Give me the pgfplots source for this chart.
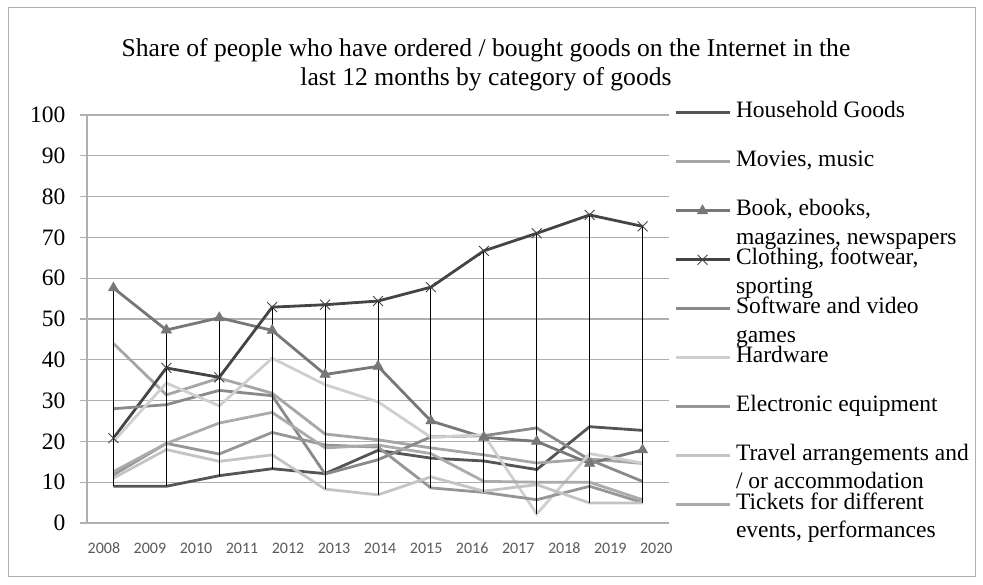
\documentclass[border=0pt]{standalone}
\usepackage{fontspec}
\setmainfont{Liberation Serif}
\newfontfamily\carlito{Carlito}
\usepackage{pgfplots}
\pgfplotsset{compat=1.18}
\definecolor{gridgray}{HTML}{AFAFAF}
\definecolor{labelgray}{HTML}{595959}
\definecolor{hhc}{HTML}{555555}
\definecolor{movc}{HTML}{A6A6A6}
\definecolor{bookc}{HTML}{777777}
\definecolor{clothc}{HTML}{444444}
\definecolor{softc}{HTML}{8A8A8A}
\definecolor{hardc}{HTML}{CFCFCF}
\definecolor{elecc}{HTML}{969696}
\definecolor{travc}{HTML}{C4C4C4}
\definecolor{tickc}{HTML}{ABABAB}
\newcommand{\two}[2]{\smash{\parbox[t]{300bp}{\raggedright #1\\#2}}}
\begin{document}
\begin{tikzpicture}[x=1bp,y=1bp]
\path[use as bounding box] (0,0) rectangle (983,585);
\draw[color=gridgray, line width=1bp] (8,8) rectangle (975,577);
\node[anchor=base, font=\fontsize{25.6bp}{30bp}\selectfont] at (486,528) {Share of people who have ordered / bought goods on the Internet in the};
\node[anchor=base, font=\fontsize{25.6bp}{30bp}\selectfont] at (486,499) {last 12 months by category of goods};
\begin{axis}[
  at={(87bp,62bp)}, anchor=south west,
  scale only axis, width=582bp, height=408bp,
  xmin=-0.5, xmax=10.5, ymin=0, ymax=100,
  axis x line*=bottom, axis y line*=left,
  axis line style={draw=gridgray, line width=1.2bp, -},
  ytick={0,10,...,100},
  ymajorgrids, grid style={gridgray, line width=1.2bp},
  tick align=outside, major tick length=7bp,
  ytick style={gridgray, line width=1.2bp},
  xtick style={draw=none},
  xtick={-0.18,0.69,1.56,2.43,3.30,4.17,5.04,5.91,6.78,7.65,8.52,9.39,10.26},
  xticklabels={2008,2009,2010,2011,2012,2013,2014,2015,2016,2017,2018,2019,2020},
  xticklabel style={font=\carlito\fontsize{16bp}{18bp}\selectfont, text=labelgray, anchor=north, text height=11bp, text depth=0pt, yshift=-9bp},
  yticklabel style={font=\fontsize{23.5bp}{28bp}\selectfont, anchor=east, xshift=-11bp},
  /pgf/number format/assume math mode=true,
  clip=false,
  legend cell align=left,
  legend style={at={(1,1)}, anchor=north west, xshift=5bp, yshift=13bp, draw=none, fill=none,
    inner sep=0pt, outer sep=0pt, row sep=28.9bp,
    font=\fontsize{23.5bp}{28.7bp}\selectfont,
    nodes={inner sep=0pt, text height=16bp, text depth=4bp},
    /tikz/every odd column/.append style={column sep=5bp}},
  legend image code/.code={%
    \draw[#1, line width=3bp, mark=none] (0bp,-1bp) -- (54bp,-1bp);
    \draw[#1, only marks] plot coordinates {(27bp,-1bp)};},
]
\addplot[hhc, line width=2.8bp, mark=none] coordinates {(0,9.0) (1,9.0) (2,11.6) (3,13.3) (4,12.1) (5,17.8) (6,15.9) (7,15.2) (8,13.1) (9,23.6) (10,22.7)};
\addlegendentry{Household Goods}
\addplot[movc, line width=2.8bp, mark=none] coordinates {(0,44.0) (1,31.4) (2,35.5) (3,31.8) (4,21.8) (5,20.4) (6,18.4) (7,16.7) (8,14.7) (9,15.7) (10,14.6)};
\addlegendentry{Movies, music}
\addplot[bookc, line width=2.8bp, mark=triangle*, mark size=6bp, mark options={fill=bookc, draw=bookc, line width=0.5bp}] coordinates {(0,57.6) (1,47.3) (2,50.3) (3,47.2) (4,36.4) (5,38.4) (6,25.0) (7,21.0) (8,20.0) (9,14.6) (10,17.9)};
\addlegendentry{\two{Book, ebooks,}{magazines, newspapers}}
\addplot[clothc, line width=2.8bp, mark=x, mark size=7bp, mark options={draw=clothc, line width=0.9bp}] coordinates {(0,20.8) (1,38.0) (2,35.7) (3,52.9) (4,53.5) (5,54.4) (6,57.8) (7,66.7) (8,71.0) (9,75.5) (10,72.7)};
\addlegendentry{\two{Clothing, footwear,}{sporting}}
\addplot[softc, line width=2.8bp, mark=none] coordinates {(0,28.0) (1,29.0) (2,32.5) (3,31.2) (4,12.0) (5,15.5) (6,21.1) (7,21.4) (8,23.3) (9,15.5) (10,10.2)};
\addlegendentry{\two{Software and video}{games}}
\addplot[hardc, line width=2.8bp, mark=none] coordinates {(0,20.0) (1,34.3) (2,28.7) (3,40.4) (4,33.9) (5,29.7) (6,21.0) (7,21.6) (8,2.2) (9,17.0) (10,14.7)};
\addlegendentry{Hardware}
\addplot[elecc, line width=2.8bp, mark=none] coordinates {(0,11.8) (1,19.5) (2,16.9) (3,22.2) (4,19.1) (5,18.6) (6,8.6) (7,7.5) (8,5.7) (9,9.0) (10,5.0)};
\addlegendentry{Electronic equipment}
\addplot[travc, line width=2.8bp, mark=none] coordinates {(0,11.0) (1,18.0) (2,15.1) (3,16.7) (4,8.3) (5,6.9) (6,11.3) (7,7.8) (8,9.4) (9,4.9) (10,4.9)};
\addlegendentry{\two{Travel arrangements and}{/ or accommodation}}
\addplot[tickc, line width=2.8bp, mark=none] coordinates {(0,12.6) (1,19.5) (2,24.5) (3,27.1) (4,18.4) (5,19.1) (6,17.0) (7,10.2) (8,10.0) (9,10.0) (10,5.7)};
\addlegendentry{\two{Tickets for different}{events, performances}}
\addplot[black, line width=1bp, unbounded coords=jump, forget plot] coordinates {(0,57.6) (0,9.0) (0,nan) (1,47.3) (1,9.0) (1,nan) (2,50.3) (2,11.6) (2,nan) (3,52.9) (3,13.3) (3,nan) (4,53.5) (4,8.3) (4,nan) (5,54.4) (5,6.9) (5,nan) (6,57.8) (6,8.6) (6,nan) (7,66.7) (7,7.5) (7,nan) (8,71.0) (8,2.2) (8,nan) (9,75.5) (9,4.9) (9,nan) (10,72.7) (10,4.9)};
\end{axis}
\end{tikzpicture}
\end{document}
